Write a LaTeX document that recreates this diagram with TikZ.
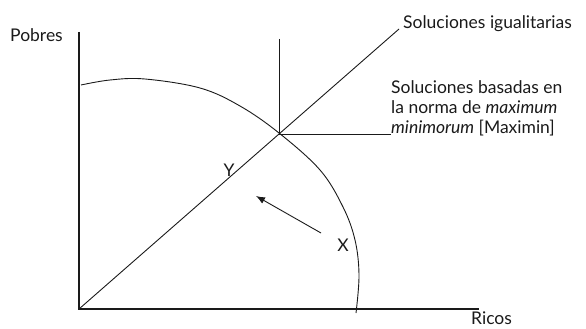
\documentclass[tikz,border=0pt]{standalone}
\usepackage{fontspec}
\setmainfont{Lato}
\usepackage{tikz}
\usetikzlibrary{arrows.meta}
\definecolor{inkgray}{HTML}{1A1A1A}

\begin{document}
\begin{tikzpicture}[x=1pt,y=-1pt,font=\fontsize{17.5}{20}\selectfont,
  axis/.style={line width=1.3pt,inkgray},
  thin/.style={line width=0.9pt,inkgray},
  lbl/.style={text=inkgray,inner sep=0pt}]
\useasboundingbox (0,0) rectangle (586,329);
% axes
\coordinate (o) at (79,309);
\coordinate (ytop) at (79,32);
\coordinate (xend) at (479,309);
\draw[axis] (ytop) -- (o) -- (xend);
\node[lbl,anchor=base east] (pobres) at (63,42) {Pobres};
\node[lbl,anchor=base west] (ricos) at (471,324) {Ricos};
% egalitarian line and maximin corner
\coordinate (ig) at (399,29);
\coordinate (mm) at (279,134);
\coordinate (mmtop) at (279,39);
\coordinate (mmend) at (391,134);
\draw[thin] (o) -- (ig);
\draw[thin] (mmtop) -- (mm) -- (mmend);
\node[lbl,anchor=base west] (igual) at (403,29) {Soluciones igualitarias};
\node[lbl,anchor=base west,align=left] (maximin) at (391,133)
  {Soluciones basadas en\\la norma de \textit{maximum}\\\textit{minimorum} [Maximin]};
% frontier
\draw[thin] plot[smooth,tension=0.6] coordinates {(81,85) (110,80) (145,79) (200,88)
  (240,106) (279,133) (320,170) (343,207) (355,240) (359,275) (356,313)};
\node[lbl] (y) at (229,170) {Y};
\node[lbl] (x) at (343,245) {X};
\coordinate (tail) at (321,233);
\coordinate (head) at (256,196);
\draw[thin,-{Latex[length=9pt,width=7pt]}] (tail) -- (head);
\end{tikzpicture}
\end{document}
